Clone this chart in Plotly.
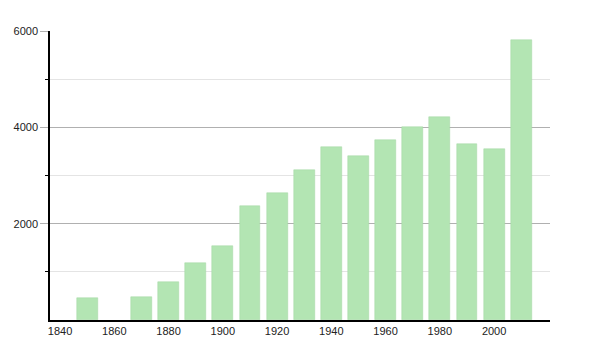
import plotly.graph_objects as go

years = [1850, 1870, 1880, 1890, 1900, 1910, 1920, 1930, 1940, 1950, 1960, 1970, 1980, 1990, 2000, 2010]
population = [463, 477, 795, 1190, 1536, 2367, 2637, 3114, 3591, 3405, 3737, 4000, 4214, 3660, 3550, 5813]

fig = go.Figure()
fig.add_trace(go.Bar(
    x=years, y=population, width=7.7,
    marker=dict(color="rgb(179,229,179)", line=dict(width=0.5, color="rgb(165,215,165)")),
    hoverinfo="x+y",
))

fig.update_layout(
    width=600, height=350,
    margin=dict(l=50, r=50, t=31, b=30),
    paper_bgcolor="white", plot_bgcolor="white",
    font=dict(family="Liberation Sans, Arial, sans-serif", size=11, color="#222"),
    showlegend=False,
    bargap=0,
    xaxis=dict(
        range=[1836.3, 2020.6], tickmode="array",
        tickvals=[1840, 1860, 1880, 1900, 1920, 1940, 1960, 1980, 2000],
        showgrid=False, zeroline=False,
        showline=True, linecolor="black", linewidth=1.5,
        ticks="", ticklen=0,
    ),
    yaxis=dict(
        range=[0, 6000], tickmode="array", tickvals=[2000, 4000, 6000],
        showgrid=True, gridcolor="#b0b0b0", gridwidth=1,
        zeroline=False, showline=True, linecolor="black", linewidth=1.5,
        ticks="outside", ticklen=8, tickcolor="#b0b0b0",
        minor=dict(tickvals=[1000, 3000, 5000], showgrid=True, gridcolor="#e4e4e4",
                   ticks="outside", ticklen=3, tickcolor="black"),
    ),
)

fig.write_html("out.html")
